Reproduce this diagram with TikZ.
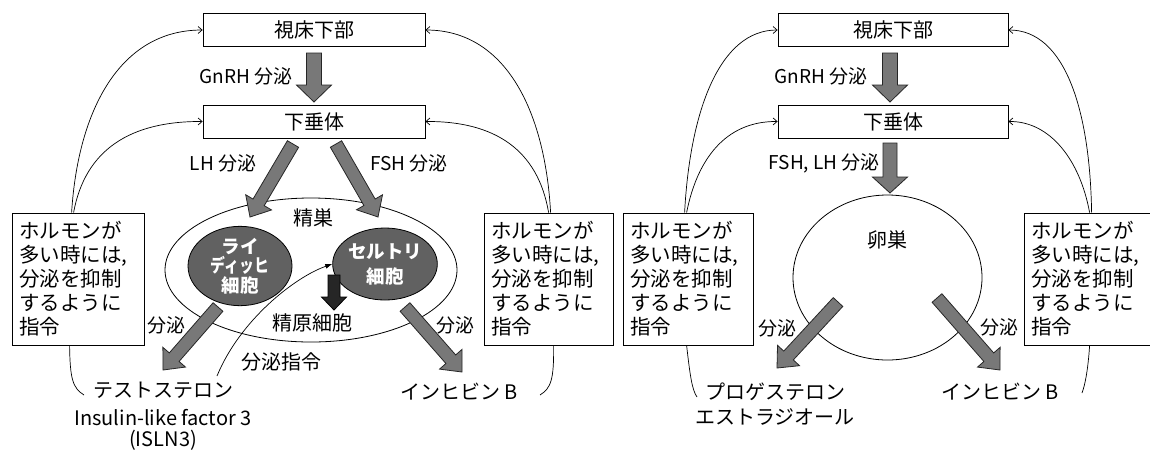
\documentclass[tikz,border=0pt]{standalone}
\usepackage{fontspec}
\setmainfont{Noto Sans CJK JP}
\usepackage{graphicx}
\usepackage{pdfrender}
\usetikzlibrary{calc,shapes.geometric,arrows.meta}
\definecolor{arrowfill}{gray}{0.47}
\definecolor{cellfill}{gray}{0.38}
\definecolor{spfill}{gray}{0.15}
% fat arrow: #1 style, #2 from, #3 to, #4 half shaft, #5 half head, #6 head length
\newcommand\fatarrow[6]{%
  \filldraw[#1] ($(#2)!#4!90:(#3)$) -- ($(#3)!#6!(#2)!#4!-90:(#2)$) -- ($(#3)!#6!(#2)!#5!-90:(#2)$) -- (#3)
   -- ($(#3)!#6!(#2)!#5!90:(#2)$) -- ($(#3)!#6!(#2)!#4!90:(#2)$) -- ($(#2)!#4!-90:(#3)$) -- cycle;}
\newcommand\outl[1]{\textcolor{white}{\textpdfrender{TextRenderingMode=FillStroke, LineWidth=1.1pt, StrokeColor=black}{#1}}}
\begin{document}
\begin{tikzpicture}[x=1pt,y=-1pt,
  organ/.style={draw, line width=0.8pt, minimum height=33pt, inner sep=0pt, font=\fontsize{20}{24}\selectfont},
  notebox/.style={draw, line width=0.8pt, text width=118pt, minimum height=132pt, inner xsep=7pt, inner ysep=0pt, align=left, font=\fontsize{20.5}{24}\selectfont},
  lbl/.style={inner sep=0pt, font=\fontsize{19}{22}\selectfont},
  big/.style={inner sep=0pt, font=\fontsize{20}{24}\selectfont},
  feed/.style={line width=0.7pt, -{Straight Barb[length=4pt,width=7pt]}},
  brk/.style={line width=0.7pt},
  fat/.style={fill=arrowfill, draw=black!85, line width=0.8pt, line join=miter},
  darkfat/.style={fill=spfill, draw=black, line width=0.8pt, line join=miter},
  organ ellipse/.style={draw, ellipse, line width=0.8pt, inner sep=0pt},
  cell/.style={draw, ellipse, line width=0.8pt, fill=cellfill, inner sep=0pt, minimum width=104pt, align=center},
]
\useasboundingbox (0,0) rectangle (1150,451);

% ================= LEFT (male) =================
\node[organ, minimum width=222pt] (hypoL) at (314,30) {視床下部};
\node[organ, minimum width=222pt] (pitL) at (314,121.5) {下垂体};
\node[notebox] (boxLL) at (78,279) {ホルモンが\\多い時には,\\分泌を抑制\\するように\\指令};
\node[notebox, text width=115pt] (boxLR) at (548.5,279) {ホルモンが\\多い時には,\\分泌を抑制\\するように\\指令};

\node[organ ellipse, minimum width=292pt, minimum height=144pt] (testis) at (311,270) {};
\node[cell, minimum height=68pt, font=\bfseries\fontsize{18.5}{19.5}\selectfont] (leydig) at (240,266)
  {\outl{ライ}\\\outl{\scalebox{0.8}[1]{ディッヒ}}\\\outl{細胞}};
\node[cell, minimum height=72pt, font=\bfseries\fontsize{18.5}{25}\selectfont] (sert) at (385,264)
  {\outl{セルトリ}\\\outl{細胞}};

\node[big] (testislbl) at (313,218) {精巣};
\node[big] (spg) at (312,323) {精原細胞};
\node[big] (cmd) at (281,362) {分泌指令};
\node[lbl] (gnL) at (246,76) {GnRH 分泌};
\node[lbl] (lhL) at (223,163) {LH 分泌};
\node[lbl] (fshL) at (409,163) {FSH 分泌};
\node[lbl] (secL1) at (166,325) {分泌};
\node[lbl] (secL2) at (455,325) {分泌};
\node[big, align=center, font=\fontsize{20}{21}\selectfont] (testo) at (163,416) {テストステロン\\[7pt]Insulin-like factor 3\\(ISLN3)};
\node[big] (inhL) at (459,392) {インヒビン B};

% fat arrows
\coordinate (gnA) at (314,53);  \coordinate (gnB) at (314,102);
\coordinate (lhA) at (293,144); \coordinate (lhB) at (250,217);
\coordinate (fsA) at (336,144); \coordinate (fsB) at (378,217);
\coordinate (lyA) at (218,307); \coordinate (lyB) at (163,370);
\coordinate (stA) at (405,307); \coordinate (stB) at (462,372);
\coordinate (spA) at (334,275); \coordinate (spB) at (334,310);
\fatarrow{fat}{gnA}{gnB}{7.5pt}{17.5pt}{17pt}
\fatarrow{fat}{lhA}{lhB}{6.5pt}{15pt}{17pt}
\fatarrow{fat}{fsA}{fsB}{6.5pt}{15pt}{17pt}
\fatarrow{fat}{lyA}{lyB}{6.5pt}{15pt}{17pt}
\fatarrow{fat}{stA}{stB}{6.5pt}{15pt}{17pt}
\fatarrow{darkfat}{spA}{spB}{6pt}{12.5pt}{13pt}

% secretion command
\coordinate (cmdA) at (217,376);
\draw[line width=0.7pt, -{Latex[length=7pt,width=5pt]}] (cmdA) .. controls (240,320) and (295,277) .. (sert.west);

% feedback curves
\draw[feed] ($(boxLL.north west)+(60,0)$) .. controls (78,110) and (120,30) .. (hypoL.west);
\draw[feed] ($(boxLL.north west)+(62,0)$) .. controls (85,150) and (130,121) .. (pitL.west);
\draw[feed] ($(boxLR.north west)+(67,0)$) .. controls (545,110) and (505,30) .. (hypoL.east);
\draw[feed] ($(boxLR.north west)+(65,0)$) .. controls (538,150) and (495,121) .. (pitL.east);
% brackets
\coordinate (brLL) at (84,395);
\coordinate (brLR) at (540,395);
\draw[brk] ($(boxLL.south west)+(58,0)$) .. controls (70,380) and (73,388) .. (brLL);
\draw[brk] ($(boxLR.south west)+(70,0)$) .. controls (554,380) and (551,388) .. (brLR);

% ================= RIGHT (female) =================
\node[organ, minimum width=230pt] (hypoR) at (893,30) {視床下部};
\node[organ, minimum width=230pt] (pitR) at (893,121.5) {下垂体};
\node[notebox, text width=116pt] (boxRL) at (688,279) {ホルモンが\\多い時には,\\分泌を抑制\\するように\\指令};
\node[notebox] (boxRR) at (1090,279) {ホルモンが\\多い時には,\\分泌を抑制\\するように\\指令};
\node[organ ellipse, minimum width=189pt, minimum height=165pt] (ovary) at (887.5,277.5) {};
\node[big] (ovlbl) at (887,240) {卵巣};
\node[lbl] (gnR) at (821,76) {GnRH 分泌};
\node[lbl, anchor=east] (fshlh) at (880,163) {FSH, LH 分泌};
\node[lbl] (secR1) at (777,328) {分泌};
\node[lbl] (secR2) at (999,327) {分泌};
\node[big, align=center, font=\fontsize{20}{25}\selectfont] (prog) at (775,404.5) {プロゲステロン\\エストラジオール};
\node[big] (inhR) at (1000,392) {インヒビン B};

\coordinate (gnRA) at (890,53);  \coordinate (gnRB) at (890,102);
\coordinate (flA) at (890,143);  \coordinate (flB) at (890,193);
\coordinate (ovA) at (838,302);  \coordinate (ovB) at (777,368);
\coordinate (ovC) at (937,298);  \coordinate (ovD) at (1000,370);
\fatarrow{fat}{gnRA}{gnRB}{7.5pt}{17.5pt}{17pt}
\fatarrow{fat}{flA}{flB}{7pt}{17.5pt}{16pt}
\fatarrow{fat}{ovA}{ovB}{6.5pt}{15pt}{17pt}
\fatarrow{fat}{ovC}{ovD}{6.5pt}{15pt}{17pt}

\draw[feed] ($(boxRL.north west)+(62,0)$) .. controls (690,110) and (720,30) .. (hypoR.west);
\draw[feed] ($(boxRL.north west)+(64,0)$) .. controls (697,160) and (725,121) .. (pitR.west);
\draw[feed] ($(boxRR.north west)+(68,0)$) .. controls (1090,110) and (1065,30) .. (hypoR.east);
\draw[feed] ($(boxRR.north west)+(66,0)$) .. controls (1080,160) and (1050,121) .. (pitR.east);
\coordinate (brRL) at (697,397);
\coordinate (brRR) at (1082,393);
\draw[brk] ($(boxRL.south west)+(64,0)$) .. controls (690,375) and (692,390) .. (brRL);
\draw[brk] ($(boxRR.south west)+(66,0)$) .. controls (1088,370) and (1085,385) .. (brRR);
\end{tikzpicture}
\end{document}
